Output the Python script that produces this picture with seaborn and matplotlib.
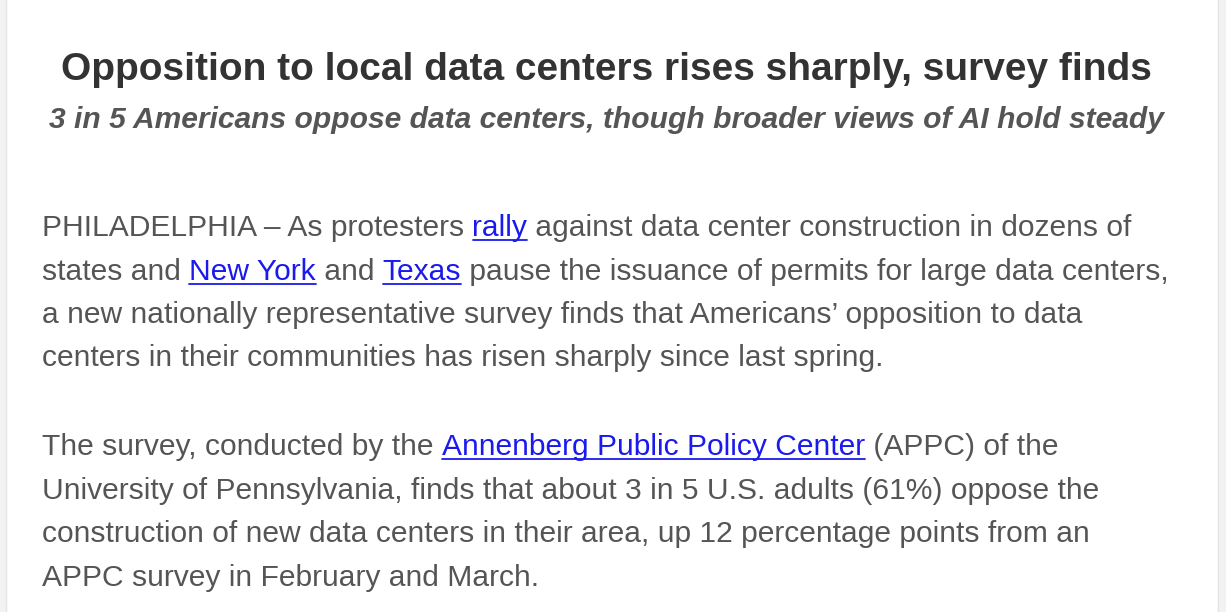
import matplotlib
matplotlib.use("Agg")
import matplotlib.pyplot as plt
import seaborn as sns
from matplotlib.patches import Rectangle

sns.set_theme(style="white")
plt.rcParams['font.family'] = ['Liberation Sans', 'DejaVu Sans']

title = "Opposition to local data centers rises sharply, survey finds"
subtitle = "3 in 5 Americans oppose data centers, though broader views of AI hold steady"

# each line: list of (text, is_link)
para1 = [
    [("PHILADELPHIA \u2013 As protesters ", False), ("rally", True),
     (" against data center construction in dozens of", False)],
    [("states and ", False), ("New York", True), (" and ", False), ("Texas", True),
     (" pause the issuance of permits for large data centers,", False)],
    [("a new nationally representative survey finds that Americans\u2019 opposition to data", False)],
    [("centers in their communities has risen sharply since last spring.", False)],
]
para2 = [
    [("The survey, conducted by the ", False), ("Annenberg Public Policy Center", True),
     (" (APPC) of the", False)],
    [("University of Pennsylvania, finds that about 3 in 5 U.S. adults (61%) oppose the", False)],
    [("construction of new data centers in their area, up 12 percentage points from an", False)],
    [("APPC survey in February and March.", False)],
]
baselines1 = [236, 280, 323, 366]
baselines2 = [455, 499, 542, 586]

fig = plt.figure(figsize=(12.26, 6.12), dpi=100)
fig.patch.set_facecolor("#f2f2f2")
ax = fig.add_axes([0, 0, 1, 1])
ax.set_xlim(0, 1226)
ax.set_ylim(612, 0)
ax.axis("off")
ax.add_patch(Rectangle((6, -5), 1212, 630, facecolor="white", edgecolor="#e4e4e4", lw=1))

ax.text(606, 80, title, ha="center", va="baseline", fontsize=28, fontweight="bold", color="#333333")
ax.text(606, 128, subtitle, ha="center", va="baseline", fontsize=21.6, fontweight="bold",
        fontstyle="italic", color="#555555")

renderer = fig.canvas.get_renderer()
fs = 21.6
for lines, bases in [(para1, baselines1), (para2, baselines2)]:
    for segs, y in zip(lines, bases):
        x = 42
        for txt, link in segs:
            col = "#1a1aee" if link else "#555555"
            t = ax.text(x, y, txt, ha="left", va="baseline", fontsize=fs, color=col)
            w = t.get_window_extent(renderer).width
            if link:
                ax.plot([x, x + w], [y + 4, y + 4], color=col, lw=1.3)
            x += w

fig.savefig("out.png", dpi=100, facecolor=fig.get_facecolor())
